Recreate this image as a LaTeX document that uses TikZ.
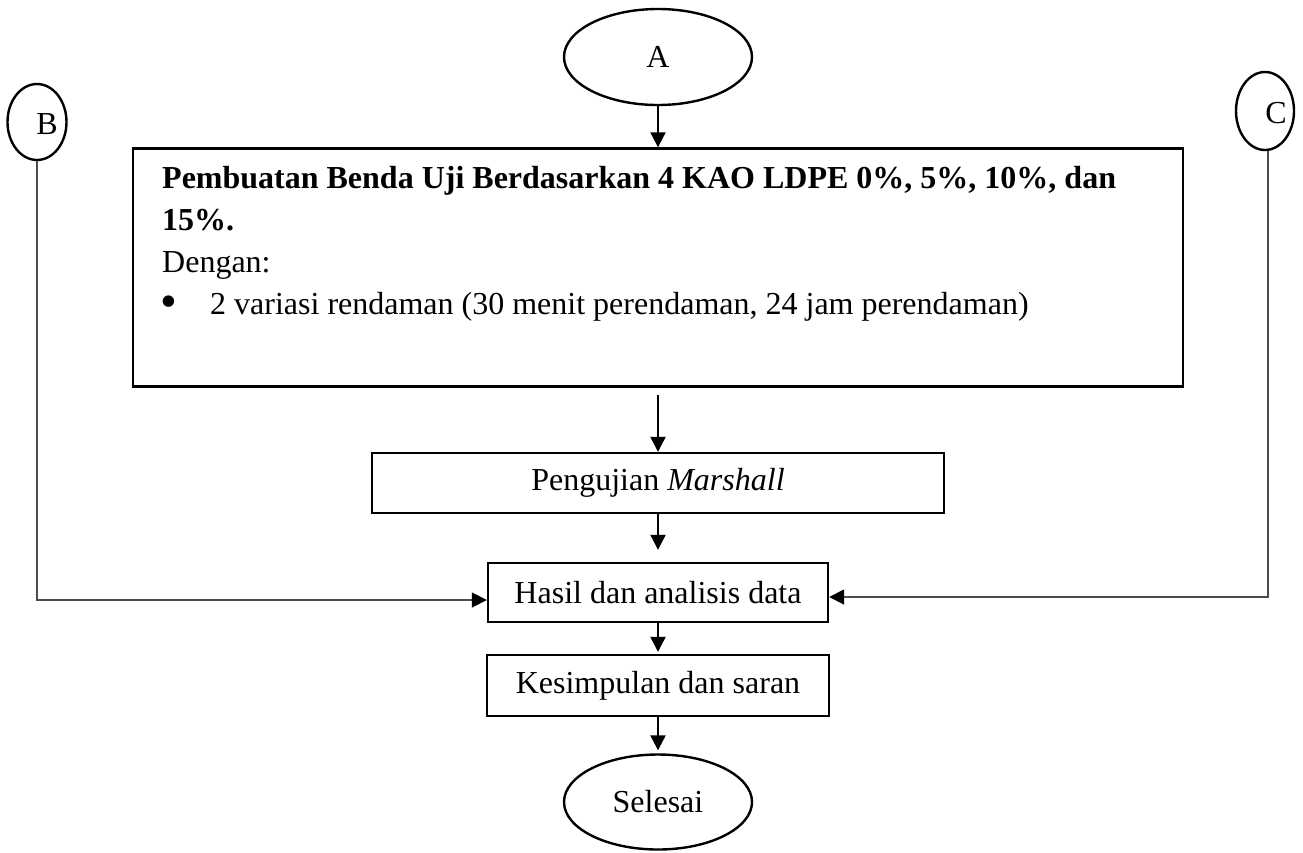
\documentclass[tikz,border=0pt]{standalone}
\usepackage{fontspec}
\setmainfont{Liberation Serif}
\usetikzlibrary{shapes.geometric,arrows.meta}
\begin{document}
\begin{tikzpicture}[x=1pt,y=-1pt,
  every node/.style={font=\fontsize{32}{37}\selectfont},
  box/.style={draw=black,line width=2.4pt,rectangle,inner sep=0pt},
  term/.style={draw=black,line width=2.4pt,ellipse,inner sep=0pt},
  txt/.style={inner sep=0pt,anchor=base west},
  arr/.style={line width=2.2pt,-{Triangle[length=15pt,width=15pt]}},
  side/.style={draw=black!70,line width=1.8pt,-{Triangle[length=15pt,width=15pt,color=black]}}
]
\useasboundingbox (0,0) rectangle (1303,852);
\fill[white] (0,0) rectangle (1303,852);

% terminals
\node[term,minimum width=188pt,minimum height=96pt] (A) at (658,57) {};
\node[inner sep=0pt] (Al) at (658,57) {A};
\node[term,minimum width=59pt,minimum height=76pt] (B) at (37,122) {};
\node[inner sep=0pt] (Bl) at (47,124) {B};
\node[term,minimum width=58pt,minimum height=78pt] (C) at (1265,111) {};
\node[inner sep=0pt] (Cl) at (1276,113) {C};

% big box
\node[box,minimum width=1050pt,minimum height=238pt] (P) at (658,267.5) {};
\node[txt] (t1) at (162,188) {\bfseries Pembuatan Benda Uji Berdasarkan 4 KAO LDPE 0\%, 5\%, 10\%, dan};
\node[txt] (t2) at (162,230) {\bfseries 15\%.};
\node[txt] (t3) at (162,272) {Dengan:};
\node[txt] (t4) at (160,317) {\fontsize{48}{48}\selectfont\textbullet};
\node[txt] (t5) at (210,314) {2 variasi rendaman (30 menit perendaman, 24 jam perendaman)};

% process boxes
\node[box,minimum width=572pt,minimum height=60pt] (M) at (658,483) {Pengujian \textit{Marshall}};
\node[box,minimum width=340pt,minimum height=59pt] (H) at (658,592.5) {Hasil dan analisis data};
\node[box,minimum width=342pt,minimum height=61pt] (K) at (658,685.5) {Kesimpulan dan saran};
\node[term,minimum width=188pt,minimum height=95pt] (S) at (658,802) {Selesai};

% arrows
\draw[arr] (A.south) -- (P.north);
\draw[arr,shorten <=7pt] (P.south) -- (M.north);
\draw[arr,shorten >=12pt] (M.south) -- (H.north);
\draw[arr,shorten >=2pt] (H.south) -- (K.north);
\draw[arr,shorten >=3pt] (K.south) -- (S.north);

\coordinate (Bc) at (37,600);
\coordinate (Cc) at (1268,597);
\draw[side] (B.south) -- (Bc) -- (H.west |- Bc);
\draw[side] (C.south -| Cc) -- (Cc) -- (H.east |- Cc);
\end{tikzpicture}
\end{document}
